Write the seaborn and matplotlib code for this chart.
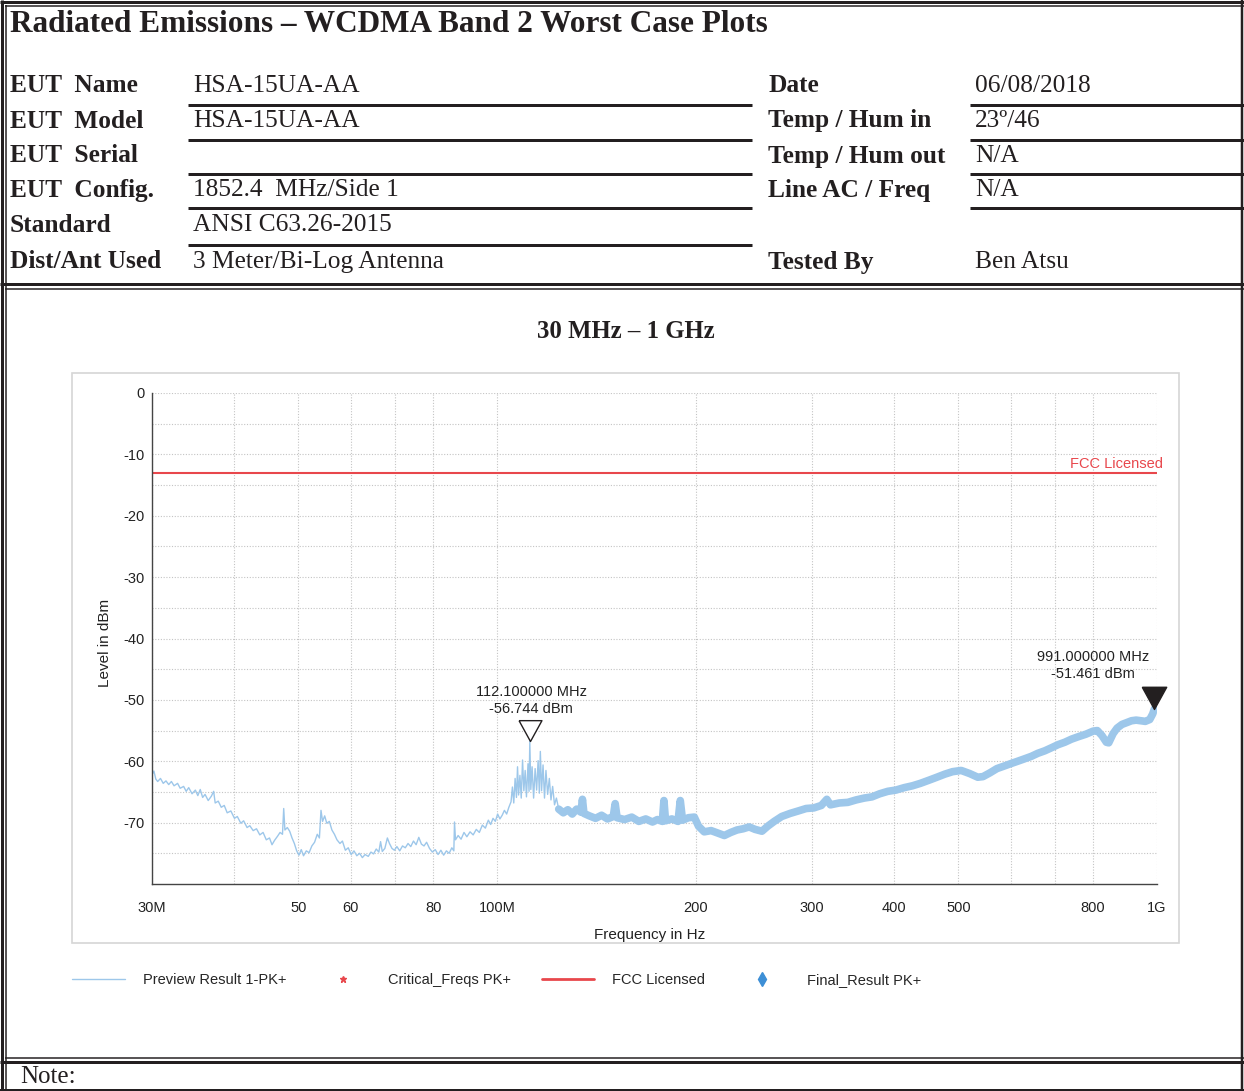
import numpy as np
import pandas as pd
import matplotlib.pyplot as plt
import seaborn as sns
from matplotlib.lines import Line2D
from matplotlib.patches import Rectangle

# ---- header info ----
left_labels = ["EUT  Name", "EUT  Model", "EUT  Serial", "EUT  Config.", "Standard", "Dist/Ant Used"]
left_values = ["HSA-15UA-AA", "HSA-15UA-AA", "", "1852.4  MHz/Side 1", "ANSI C63.26-2015", "3 Meter/Bi-Log Antenna"]
right_labels = ["Date", "Temp / Hum in", "Temp / Hum out", "Line AC / Freq", "Tested By"]
right_values = ["06/08/2018", "23\u00ba/46", "N/A", "N/A", "Ben Atsu"]

# ---- preview scan trace (MHz, dBm) ----
freq_low = [30.0, 30.2, 30.4, 30.6, 30.9, 31.2, 31.5, 31.8, 32.1, 32.4, 32.8, 33.1, 33.5, 33.8,
            34.1, 34.5, 34.9, 35.2, 35.5, 35.8, 36.1, 36.5, 36.9, 37.2, 37.4, 37.8, 38.2, 38.6,
            39.0, 39.5, 40.0, 40.4, 40.9, 41.3, 41.8, 42.2, 42.7, 43.2, 43.7, 44.2, 44.7, 45.2,
            45.6, 46.0, 46.5, 46.9, 47.3, 47.5, 47.7, 48.1, 48.5, 48.9, 49.3, 49.7, 50.1, 50.5,
            50.9, 51.4, 51.9, 52.4, 52.9, 53.4, 53.8, 54.1, 54.4, 54.8, 55.2, 55.7, 56.2, 56.7,
            57.2, 57.8, 58.3, 58.9, 59.5, 60.1, 60.7, 61.3, 61.9, 62.5, 63.1, 63.8, 64.4, 65.0,
            65.6, 66.2, 66.6, 67.0, 67.6, 68.2, 68.7, 69.3, 69.9, 70.5, 71.2, 71.9, 72.6, 73.3,
            74.0, 74.7, 75.4, 76.1, 76.8, 77.5, 78.2, 79.0, 79.8, 80.6, 81.4, 82.2, 83.0, 83.8,
            84.6, 85.4, 86.0, 86.2, 86.5, 87.3, 88.2, 89.1, 90.0, 91.0, 92.0, 93.0, 94.0, 95.0,
            96.0, 97.0, 97.8, 98.6, 99.4, 100.2, 101.0, 101.8, 102.6, 103.4, 104.2, 105.0]
level_low = [-62.2, -61.6, -62.9, -63.3, -62.8, -63.6, -63.2, -63.8, -63.3, -64.0, -63.6, -64.4, -64.1, -64.9,
             -64.3, -65.3, -64.7, -65.6, -64.6, -65.9, -65.4, -66.4, -65.7, -64.9, -66.8, -66.5, -67.5, -67.2,
             -68.4, -68.1, -69.3, -69.0, -70.1, -69.7, -70.8, -70.5, -71.3, -71.0, -72.0, -71.6, -72.8, -72.5,
             -73.6, -72.9, -72.2, -71.6, -71.9, -67.7, -71.2, -70.8, -71.4, -72.5, -73.4, -74.6, -75.3, -74.4,
             -75.4, -74.6, -74.9, -73.8, -73.2, -71.9, -72.5, -68.0, -69.8, -68.9, -70.1, -69.8, -71.2, -71.9,
             -72.8, -73.4, -73.0, -74.5, -74.1, -75.2, -74.6, -75.4, -75.0, -75.7, -75.2, -75.5, -74.8, -75.1,
             -74.3, -74.8, -73.1, -74.7, -74.2, -72.5, -73.4, -74.2, -74.5, -73.9, -74.6, -73.8, -74.1, -73.4,
             -73.9, -73.0, -73.6, -72.4, -73.5, -73.8, -73.2, -74.2, -74.8, -74.4, -75.2, -74.5, -75.3, -74.6,
             -75.0, -74.1, -74.6, -69.9, -72.8, -72.1, -72.7, -71.6, -72.3, -71.5, -72.0, -71.1, -71.6, -70.4,
             -70.9, -69.6, -70.3, -69.3, -69.8, -68.6, -69.4, -68.8, -68.0, -68.6, -67.5, -66.6]

freq_peak = [105.5, 106.0, 106.5, 107.0, 107.4, 107.8, 108.3, 108.8, 109.3, 109.8, 110.3, 110.8,
             111.4, 111.8, 112.1, 112.5, 113.0, 113.6, 114.2, 114.8, 115.4, 115.9, 116.3, 116.8,
             117.4, 118.0, 118.6, 119.3, 120.0, 120.7, 121.4, 122.2, 123.0]
level_peak = [-64.2, -66.8, -62.8, -65.9, -60.9, -65.5, -62.3, -66.0, -59.8, -64.8, -61.5, -65.8,
              -60.4, -64.9, -56.744, -64.6, -60.9, -66.0, -61.2, -64.7, -59.9, -65.2, -58.4, -64.8,
              -60.6, -66.0, -61.5, -65.4, -62.8, -66.3, -64.1, -67.1, -66.0]

freq_high = [124.0, 126.0, 128.0, 130.0, 132.0, 134.0, 134.7, 135.4, 138.0, 141.0, 144.0, 147.0,
             150.0, 151.0, 152.0, 156.0, 160.0, 164.0, 168.0, 172.0, 175.0, 178.0, 179.0, 180.0,
             184.0, 188.0, 189.5, 191.0, 195.0, 199.0, 202.0, 206.0, 211.0, 216.0, 221.0, 226.0,
             231.0, 236.0, 241.0, 246.0, 252.0, 257.0, 263.0, 270.0, 278.0, 286.0, 294.0, 302.0,
             310.0, 316.0, 320.0, 330.0, 340.0, 350.0, 360.0, 370.0, 380.0, 391.0, 402.0, 414.0,
             426.0, 438.0, 451.0, 464.0, 477.0, 490.0, 505.0, 520.0, 535.0, 545.0, 558.0, 572.0,
             586.0, 600.0, 615.0, 630.0, 645.0, 660.0, 676.0, 692.0, 708.0, 725.0, 742.0, 760.0,
             780.0, 800.0, 812.0, 825.0, 838.0, 845.0, 858.0, 870.0, 885.0, 900.0, 915.0, 930.0,
             945.0, 960.0, 975.0, 985.0, 991.0, 1000.0]
level_high = [-67.8, -68.4, -67.9, -68.6, -67.8, -68.3, -66.2, -68.5, -68.9, -69.3, -68.8, -69.4,
              -69.0, -66.9, -69.2, -69.5, -69.1, -69.8, -69.4, -69.9, -69.5, -69.8, -66.4, -69.7,
              -69.4, -69.8, -66.4, -69.6, -69.2, -69.1, -70.6, -71.5, -71.3, -71.7, -72.1, -71.6,
              -71.2, -71.0, -70.7, -71.1, -71.4, -70.6, -69.8, -69.0, -68.5, -68.1, -67.7, -67.6,
              -67.2, -66.2, -67.1, -66.8, -66.7, -66.3, -66.0, -65.8, -65.3, -64.9, -64.7, -64.3,
              -64.0, -63.6, -63.1, -62.6, -62.1, -61.7, -61.5, -62.0, -62.6, -62.5, -61.9, -61.2,
              -60.8, -60.4, -60.0, -59.6, -59.2, -58.7, -58.3, -57.8, -57.3, -56.9, -56.4, -56.0,
              -55.6, -55.1, -55.0, -55.8, -56.9, -57.0, -55.5, -54.6, -54.0, -53.7, -53.4, -53.3,
              -53.4, -53.5, -53.2, -52.3, -51.461, -51.3]

limit_freq = [30.0, 1000.0]
limit_level = [-13.0, -13.0]

peak_freq = [112.1, 991.0]
peak_level = [-56.744, -51.461]
peak_text = ["112.100000 MHz\n-56.744 dBm", "991.000000 MHz\n-51.461 dBm"]

xtick_vals = [30, 40, 50, 60, 70, 80, 100, 200, 300, 400, 500, 600, 700, 800, 1000]
xtick_labels = ["30M", "", "50", "60", "", "80", "100M", "200", "300", "400", "500", "", "", "800", "1G"]
ytick_vals = [0, -10, -20, -30, -40, -50, -60, -70]

legend_labels = ["Preview Result 1-PK+", "Critical_Freqs PK+", "FCC Licensed", "Final_Result PK+"]

TRACE = "#9dc7ea"
RED = "#e8474c"
INK = "#231f20"
W, H = 1244, 1091

sns.set_style("white")
plt.rcParams["font.family"] = ["Liberation Sans", "DejaVu Sans"]
plt.rcParams["axes.unicode_minus"] = False

fig = plt.figure(figsize=(W / 100, H / 100), dpi=100)


def fx(x):
    return x / W


def fy(y):
    return 1 - y / H


def hline(y, x0, x1, lw):
    fig.add_artist(Line2D([fx(x0), fx(x1)], [fy(y), fy(y)], transform=fig.transFigure,
                          color=INK, lw=lw * 0.72, solid_capstyle="butt"))


def vline(x, y0, y1, lw):
    fig.add_artist(Line2D([fx(x), fx(x)], [fy(y0), fy(y1)], transform=fig.transFigure,
                          color=INK, lw=lw * 0.72, solid_capstyle="butt"))


# page frame
hline(1.5, 0, W, 3)
hline(5.5, 5, W, 1.5)
vline(1.5, 0, H, 3)
vline(5.5, 5, H, 1.5)
vline(1242, 0, H, 2.5)
hline(284, 0, W, 3)
hline(288.5, 5, W, 1.5)
hline(1058, 5, W, 1.5)
hline(1062, 0, W, 3)
hline(1089.5, 0, W, 2)

serif = ["Liberation Serif", "DejaVu Serif"]

# header
fig.text(fx(10), fy(24), "Radiated Emissions \u2013 WCDMA Band 2 Worst Case Plots", family=serif,
         weight="bold", fontsize=22.5, va="center", ha="left", color=INK)
left_rows = [86, 121, 156, 190, 225, 262]
for i, (lab, val) in enumerate(zip(left_labels, left_values)):
    y = left_rows[i]
    fig.text(fx(10), fy(y), lab, family=serif, weight="bold", fontsize=18.3, va="center", color=INK)
    fig.text(fx(193), fy(y), val, family=serif, fontsize=18.3, va="center", color=INK)
for y in [105, 140, 174, 208, 245]:
    hline(y, 188, 752, 3)
right_rows = [86, 121, 156, 190, 262]
for i, (lab, val) in enumerate(zip(right_labels, right_values)):
    y = right_rows[i]
    fig.text(fx(768), fy(y), lab, family=serif, weight="bold", fontsize=18.3, va="center", color=INK)
    fig.text(fx(975), fy(y), val, family=serif, fontsize=18.3, va="center", color=INK)
for y in [105, 140, 174, 208]:
    hline(y, 970, W, 3)

fig.text(fx(626), fy(331), "30 MHz \u2013 1 GHz", family=serif, weight="bold", fontsize=17.8,
         ha="center", va="center", color=INK)
fig.text(fx(20), fy(1077), "Note:", family=serif, fontsize=18, va="center", color=INK)

# chart panel
fig.add_artist(Rectangle((fx(72), fy(943)), fx(1179) - fx(72), fy(373) - fy(943),
                         transform=fig.transFigure, fill=False, edgecolor="#d6d6d6", lw=1.2))

ax = fig.add_axes([fx(152), fy(884), fx(1157) - fx(152), fy(393) - fy(884)])
ax.set_xscale("log")

df_trace = pd.DataFrame({"freq": freq_low + freq_peak + freq_high,
                         "level": level_low + level_peak + level_high})
df_high = pd.DataFrame({"freq": freq_high, "level": level_high})
# dense sweep above ~120 MHz renders as a solid band
sns.lineplot(data=df_high, x="freq", y="level", ax=ax, color=TRACE, lw=5.5,
             estimator=None, sort=False)
sns.lineplot(data=df_trace, x="freq", y="level", ax=ax, color=TRACE, lw=1.0,
             estimator=None, sort=False)

df_limit = pd.DataFrame({"freq": limit_freq, "level": limit_level})
sns.lineplot(data=df_limit, x="freq", y="level", ax=ax, color=RED, lw=1.5, estimator=None)
ax.annotate("FCC Licensed", xy=(limit_freq[-1], limit_level[-1]), xytext=(4, 1.5),
            textcoords="offset points", ha="right", va="bottom", color=RED, fontsize=10.5)

tri = [(-0.55, 1.0), (0.55, 1.0), (0.0, 0.0), (-0.55, 1.0)]
ax.plot(peak_freq[0], peak_level[0], marker=tri, markersize=30, mfc="white", mec=INK, mew=1.0,
        ls="none", zorder=5, clip_on=False)
ax.plot(peak_freq[1], peak_level[1], marker=tri, markersize=32, mfc=INK, mec=INK, mew=1.0,
        ls="none", zorder=5, clip_on=False)
ax.annotate(peak_text[0], xy=(peak_freq[0], peak_level[0]), xytext=(1, 18),
            textcoords="offset points", ha="center", va="bottom", fontsize=10.5,
            linespacing=1.3, color="#222222")
ax.annotate(peak_text[1], xy=(peak_freq[1], peak_level[1]), xytext=(-44, 20),
            textcoords="offset points", ha="center", va="bottom", fontsize=10.5,
            linespacing=1.3, color="#222222")

ax.set_xlim(30, 1000)
ax.set_ylim(-80, 0)
ax.xaxis.set_major_locator(plt.FixedLocator(xtick_vals))
ax.xaxis.set_minor_locator(plt.NullLocator())
ax.set_xticklabels(xtick_labels)
ax.set_yticks(ytick_vals)
ax.set_yticks(np.arange(-75, 0, 10), minor=True)
ax.tick_params(axis="both", which="both", direction="inout", length=6, width=1.0,
               color="#444444", labelsize=10.5, labelcolor="#222222")
ax.tick_params(axis="x", pad=9)
ax.tick_params(axis="y", pad=2)
ax.grid(True, which="both", ls=(0, (1, 1.5)), lw=0.8, color="#c4c4c4")
for side in ["top", "right"]:
    ax.spines[side].set_visible(False)
for side in ["left", "bottom"]:
    ax.spines[side].set_color("#444444")
    ax.spines[side].set_linewidth(1.0)

ax.set_xlabel("Frequency in Hz", fontsize=11, color="#222222")
ax.set_ylabel("Level in dBm", fontsize=11, color="#222222")
ax.xaxis.set_label_coords((650 - 152) / 1005, (884 - 928) / 491)
ax.yaxis.set_label_coords((112 - 152) / 1005, (884 - 643) / 491)

handles = [
    Line2D([], [], color=TRACE, lw=1.0),
    Line2D([], [], color=RED, marker="*", ms=5, ls="none"),
    Line2D([], [], color=RED, lw=2.0),
    Line2D([], [], color="#3d8fd6", marker="d", ms=7, ls="none"),
]
fig.legend(handles, legend_labels, loc="center left", bbox_to_anchor=(fx(72), fy(980)),
           ncol=4, frameon=False, fontsize=10.5, handlelength=3.63, handletextpad=1.23,
           columnspacing=2.1, borderpad=0, borderaxespad=0)

fig.savefig("out.png", dpi=100)
